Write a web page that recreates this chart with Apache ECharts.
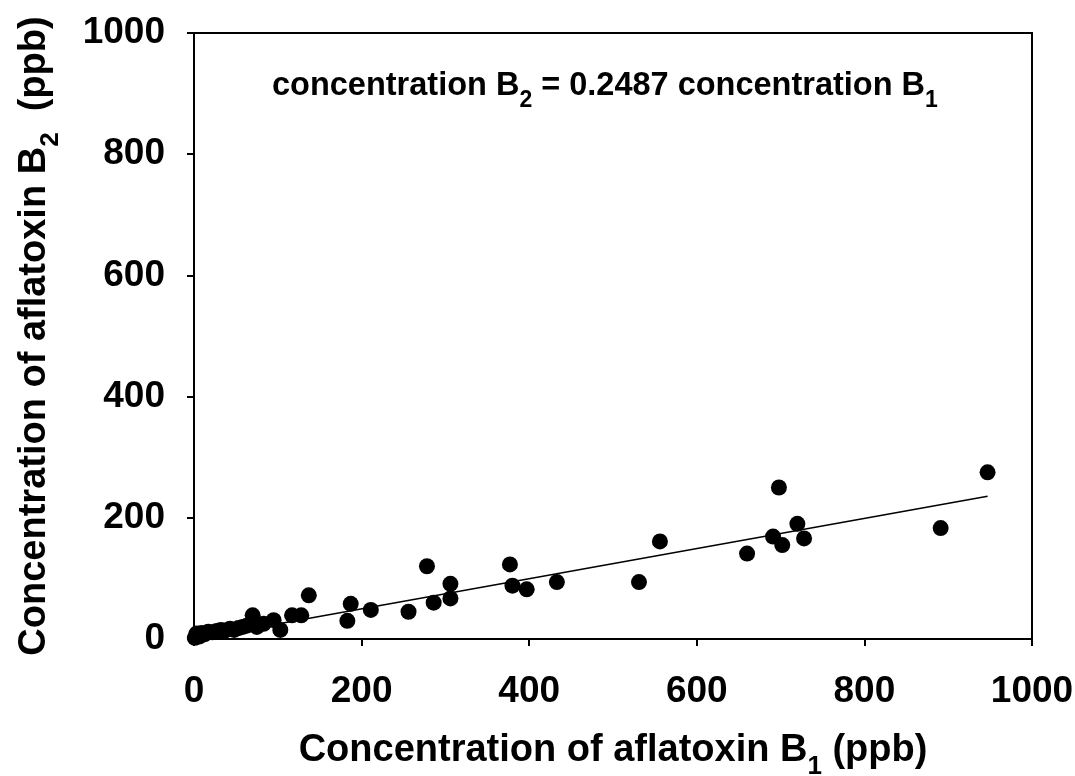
<!DOCTYPE html>
<html><head><meta charset="utf-8">
<script src="https://cdn.jsdelivr.net/npm/echarts@6/dist/echarts.min.js"></script>
<style>html,body{margin:0;padding:0;background:#fff}#c{width:1075px;height:776px}</style>
</head><body><div id="c"></div>
<script>
// Aflatoxin B1 concentration (ppb)
const b1Values = [1, 3, 6, 9, 13, 17, 22, 27, 32, 37, 43, 48, 53, 58, 63, 70, 75, 83, 95, 103, 117, 128, 137, 183, 187, 211, 256, 278, 286, 306, 306, 377, 380, 397, 433, 531, 556, 660, 691, 698, 702, 720, 728, 891, 947];
// Aflatoxin B2 concentration (ppb)
const b2Values = [2, 9, 4, 10, 8, 12, 11, 13, 15, 14, 17, 15, 18, 20, 22, 39, 20, 25, 31, 15, 39, 39, 72, 30, 58, 48, 45, 120, 60, 91, 67, 123, 88, 82, 94, 94, 161, 141, 169, 250, 155, 190, 166, 183, 275];
// Fitted line endpoints (B2 = 0.2487 * B1)
const fitB1 = [0, 947];
const fitB2 = [0, 235.5];
const axisMin = 0, axisMax = 1000, axisStep = 200;
const equationText = '{a|concentration B}{s|2}{a| = 0.2487 concentration B}{s|1}';
const xTitle = '{a|Concentration of aflatoxin B}{s|1}{a| (ppb)}';
const yTitle = '{a|Concentration of aflatoxin B}{s|2}{a|  (ppb)}';

const FF = "'Liberation Sans', Arial, sans-serif";
function richStyle(size, subSize, lh, pad) {
  return {
    a: {fontFamily: FF, fontWeight: 'bold', fontSize: size, lineHeight: lh, color: '#000'},
    s: {fontFamily: FF, fontWeight: 'bold', fontSize: subSize, lineHeight: lh, color: '#000', padding: [pad, 0, 0, 0]}
  };
}

const chart = echarts.init(document.getElementById('c'), null, {renderer: 'canvas'});
const axisCommon = {
  type: 'value', min: axisMin, max: axisMax, interval: axisStep,
  axisLine: {show: true, onZero: false, lineStyle: {color: '#000', width: 2}},
  axisTick: {show: true, inside: false, length: 7, lineStyle: {color: '#000', width: 2}},
  splitLine: {show: false},
  axisLabel: {color: '#000', fontFamily: FF, fontWeight: 'bold', fontSize: 37, formatter: v => String(v)}
};
chart.setOption({
  animation: false,
  backgroundColor: '#fff',
  title: {
    text: equationText, left: 272, top: 68, padding: 0,
    textStyle: {rich: richStyle(32.5, 23, 36, 29)}
  },
  grid: {left: 194, right: 43, top: 33, bottom: 137, containLabel: false, outerBoundsMode: 'none', show: true, borderColor: '#000', borderWidth: 2, backgroundColor: 'transparent'},
  xAxis: Object.assign({}, axisCommon, {
    axisLabel: Object.assign({}, axisCommon.axisLabel, {margin: 34}),
    name: xTitle, nameLocation: 'middle', nameGap: 90,
    nameTextStyle: {rich: richStyle(38, 26, 44, 32)}
  }),
  yAxis: Object.assign({}, axisCommon, {
    axisLabel: Object.assign({}, axisCommon.axisLabel, {margin: 29}),
    name: yTitle, nameLocation: 'middle', nameGap: 137,
    nameTextStyle: {rich: richStyle(38, 26, 44, 32)}
  }),
  series: [
    {
      type: 'scatter', symbol: 'circle', symbolSize: 16,
      itemStyle: {color: '#000', opacity: 1},
      data: b1Values.map((v, i) => [v, b2Values[i]]),
      z: 3
    },
    {
      type: 'line', symbol: 'none', silent: true,
      lineStyle: {color: '#000', width: 1.5},
      data: fitB1.map((v, i) => [v, fitB2[i]]),
      z: 2
    }
  ]
});
</script>
</body></html>
